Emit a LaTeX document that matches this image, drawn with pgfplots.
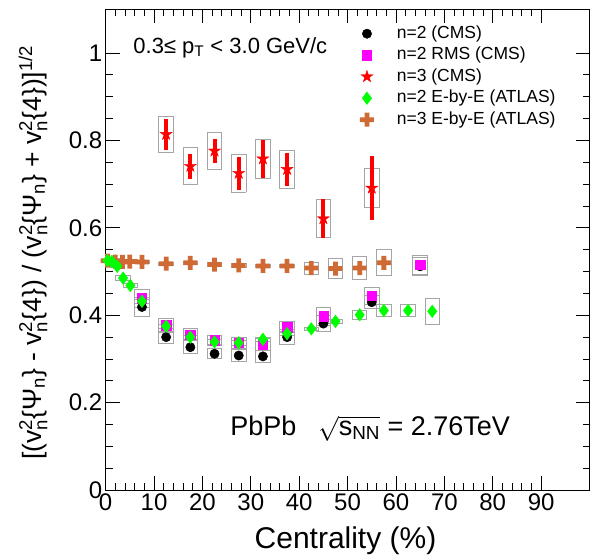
\documentclass[border=0pt]{standalone}
\usepackage{fontspec}
\setmainfont{Liberation Sans}
\usepackage{amsmath}
\usepackage{pgfplots}
\usepackage{pgfplotstable}
\pgfplotsset{compat=1.18}

\definecolor{boxgray}{RGB}{165,165,165}
\definecolor{atlasorange}{RGB}{208,106,52}
\definecolor{atlasgreen}{RGB}{0,255,0}
\definecolor{rmsmagenta}{RGB}{255,0,255}

\pgfdeclareplotmark{fstar}{%
  \pgfpathmoveto{\pgfpointpolar{90}{\pgfplotmarksize}}%
  \pgfpathlineto{\pgfpointpolar{126}{0.382\pgfplotmarksize}}%
  \pgfpathlineto{\pgfpointpolar{162}{\pgfplotmarksize}}%
  \pgfpathlineto{\pgfpointpolar{198}{0.382\pgfplotmarksize}}%
  \pgfpathlineto{\pgfpointpolar{234}{\pgfplotmarksize}}%
  \pgfpathlineto{\pgfpointpolar{270}{0.382\pgfplotmarksize}}%
  \pgfpathlineto{\pgfpointpolar{306}{\pgfplotmarksize}}%
  \pgfpathlineto{\pgfpointpolar{342}{0.382\pgfplotmarksize}}%
  \pgfpathlineto{\pgfpointpolar{18}{\pgfplotmarksize}}%
  \pgfpathlineto{\pgfpointpolar{54}{0.382\pgfplotmarksize}}%
  \pgfpathclose\pgfusepathqfillstroke}

\pgfdeclareplotmark{fplus}{%
  \pgfpathmoveto{\pgfpoint{-0.34\pgfplotmarksize}{\pgfplotmarksize}}%
  \pgfpathlineto{\pgfpoint{0.34\pgfplotmarksize}{\pgfplotmarksize}}%
  \pgfpathlineto{\pgfpoint{0.34\pgfplotmarksize}{0.34\pgfplotmarksize}}%
  \pgfpathlineto{\pgfpoint{\pgfplotmarksize}{0.34\pgfplotmarksize}}%
  \pgfpathlineto{\pgfpoint{\pgfplotmarksize}{-0.34\pgfplotmarksize}}%
  \pgfpathlineto{\pgfpoint{0.34\pgfplotmarksize}{-0.34\pgfplotmarksize}}%
  \pgfpathlineto{\pgfpoint{0.34\pgfplotmarksize}{-\pgfplotmarksize}}%
  \pgfpathlineto{\pgfpoint{-0.34\pgfplotmarksize}{-\pgfplotmarksize}}%
  \pgfpathlineto{\pgfpoint{-0.34\pgfplotmarksize}{-0.34\pgfplotmarksize}}%
  \pgfpathlineto{\pgfpoint{-\pgfplotmarksize}{-0.34\pgfplotmarksize}}%
  \pgfpathlineto{\pgfpoint{-\pgfplotmarksize}{0.34\pgfplotmarksize}}%
  \pgfpathlineto{\pgfpoint{-0.34\pgfplotmarksize}{0.34\pgfplotmarksize}}%
  \pgfpathclose\pgfusepathqfill}

\newcommand\vv{v$^{\text{2}}_{\text{n}}$}

\pgfplotstableread{
x y e
7.5 0.419 0.021
12.5 0.350 0.014
17.5 0.327 0.015
22.5 0.312 0.011
27.5 0.308 0.013
32.5 0.306 0.014
37.5 0.350 0.017
45 0.381 0.018
55 0.430 0.015
65 0.512 0.021
}\cmstwo

\pgfplotstableread{
x y e
7.5 0.439 0.020
12.5 0.377 0.016
17.5 0.356 0.013
22.5 0.343 0.011
27.5 0.337 0.013
32.5 0.333 0.014
37.5 0.373 0.013
45 0.398 0.021
55 0.444 0.020
65 0.516 0.022
}\cmstworms

\pgfplotstableread{
x y ey e
12.5 0.814 0.035 0.041
17.5 0.741 0.029 0.042
22.5 0.776 0.027 0.043
27.5 0.725 0.038 0.043
32.5 0.758 0.043 0.044
37.5 0.734 0.038 0.043
45 0.621 0.045 0.043
55 0.691 0.074 0.044
}\cmsthree

\pgfplotstableread{
x y e
0.4 0.525 0.003
1.3 0.523 0.003
2.4 0.512 0.003
3.6 0.485 0.005
5.1 0.468 0.005
7.5 0.432 0.005
12.5 0.375 0.005
17.5 0.350 0.005
22.5 0.339 0.005
27.5 0.337 0.005
32.5 0.345 0.005
37.5 0.358 0.005
42.5 0.369 0.004
47.5 0.386 0.005
52.5 0.401 0.010
57.5 0.411 0.014
62.5 0.411 0.013
67.5 0.409 0.030
}\atlastwo

\pgfplotstableread{
x y e
0.4 0.525 0.004
2.0 0.523 0.006
3.5 0.522 0.004
5.0 0.523 0.004
7.5 0.522 0.004
12.5 0.518 0.004
17.5 0.520 0.004
22.5 0.516 0.004
27.5 0.514 0.004
32.5 0.513 0.004
37.5 0.513 0.004
42.5 0.508 0.014
47.5 0.507 0.022
52.5 0.508 0.027
57.5 0.520 0.030
}\atlasthree

\pgfplotsset{
  boxh/.style={forget plot, only marks, mark size=0pt,
    mark options={draw opacity=0, fill opacity=0},
    error bars/.cd, x dir=both, x fixed=1.5, error mark=none,
    error bar style={boxgray, line width=0.9pt, line cap=rect}},
  boxv/.style={forget plot, only marks, mark size=0pt,
    mark options={draw opacity=0, fill opacity=0},
    error bars/.cd, y dir=both, y explicit, error mark=none,
    error bar style={boxgray, line width=0.9pt, line cap=rect}},
  myleg/.style={legend image code/.code={%
    \path (-8pt,0pt) (27.5pt,0pt);
    \draw[##1] plot coordinates {(0pt,0pt)};}},
}
\newcommand\sysbox[1]{%
  \addplot[boxh] table[x=x, y expr=\thisrow{y}+\thisrow{e}] {#1};
  \addplot[boxh] table[x=x, y expr=\thisrow{y}-\thisrow{e}] {#1};
  \addplot[boxv] table[x expr=\thisrow{x}-1.5, y=y, y error=e] {#1};
  \addplot[boxv] table[x expr=\thisrow{x}+1.5, y=y, y error=e] {#1};
}

\begin{document}
\begin{tikzpicture}
\begin{axis}[
  name=ax,
  scale only axis, width=484pt, height=481pt,
  xmin=0, xmax=100, ymin=0, ymax=1.1,
  xtick={0,10,20,30,40,50,60,70,80,90},
  ytick={0,0.2,0.4,0.6,0.8,1},
  minor x tick num=4, minor y tick num=3,
  major tick length=14pt, minor tick length=7pt,
  tick align=inside,
  tick style={black, line width=0.8pt},
  axis line style={black, line width=0.9pt},
  tick label style={font=\fontsize{24}{24}\selectfont},
  /pgf/number format/assume math mode=true,
  xlabel={Centrality (\%)},
  xlabel style={font=\fontsize{30}{30}\selectfont, at={(axis description cs:0.6907,-0.1206)}, anchor=base east},
  ylabel={[(\vv\{Ψ$_{\text{n}}$\} - \vv\{4\}) / (\vv\{Ψ$_{\text{n}}$\} + \vv\{4\})]$^{\text{1/2}}$},
  ylabel style={font=\fontsize{26.5}{26.5}\selectfont, at={(axis description cs:-0.150,0.494)}, anchor=center},
  legend style={at={(axis description cs:0.5227,0.972)}, anchor=north west,
    draw=none, fill=none, inner sep=0pt,
    font=\fontsize{17.5}{21}\selectfont, row sep=0pt,
    nodes={inner sep=2.25pt, text height=13pt, text depth=4pt}},
  legend cell align=left,
]
% ATLAS n=3
\sysbox{\atlasthree}
\addplot[forget plot, only marks, mark=fplus, mark size=7pt, draw=atlasorange, fill=atlasorange] table[x=x,y=y] {\atlasthree};
% CMS n=2 and RMS
\addplot[forget plot, only marks, mark=*, mark size=4.7pt, draw=black, fill=black] table[x=x,y=y] {\cmstwo};
\addplot[forget plot, only marks, mark=square*, mark size=4.65pt, draw=rmsmagenta, fill=rmsmagenta] table[x=x,y=y] {\cmstworms};
\sysbox{\cmstwo}
\sysbox{\cmstworms}
% CMS n=3
\sysbox{\cmsthree}
\addplot[forget plot, only marks, mark=fstar, mark size=6.3pt, draw=red, fill=red,
  error bars/.cd, y dir=both, y explicit, error mark=none,
  error bar style={line width=4pt, red}] table[x=x,y=y,y error=ey] {\cmsthree};
% ATLAS n=2
\sysbox{\atlastwo}
\addplot[forget plot, only marks, mark=diamond*, mark size=6.3pt, draw=atlasgreen, fill=atlasgreen] table[x=x,y=y] {\atlastwo};

\addlegendimage{only marks, mark=*, mark size=4.7pt, draw=black, fill=black, myleg}
\addlegendentry{n=2 (CMS)}
\addlegendimage{only marks, mark=square*, mark size=4.65pt, draw=rmsmagenta, fill=rmsmagenta, myleg}
\addlegendentry{n=2 RMS (CMS)}
\addlegendimage{only marks, mark=fstar, mark size=6.3pt, draw=red, fill=red, myleg}
\addlegendentry{n=3 (CMS)}
\addlegendimage{only marks, mark=diamond*, mark size=6.3pt, draw=atlasgreen, fill=atlasgreen, myleg}
\addlegendentry{n=2 E-by-E (ATLAS)}
\addlegendimage{only marks, mark=fplus, mark size=7pt, draw=atlasorange, fill=atlasorange, myleg}
\addlegendentry{n=3 E-by-E (ATLAS)}

\node[anchor=base west, font=\fontsize{22}{22}\selectfont] at (axis description cs:0.0502,0.9085) {0.3≤ p$_{\text{T}}$ < 3.0 GeV/c};
\node[anchor=base west, font=\fontsize{27}{27}\selectfont] at (axis description cs:0.2506,0.1143) {PbPb\hspace{0.8em}$\sqrt{\text{s}_{\text{NN}}}$ = 2.76TeV};
\end{axis}
\pgfresetboundingbox
\path (ax.south west) ++(-105.7pt,-69pt) rectangle ([shift={(10.5pt,9.3pt)}]ax.north east);
\end{tikzpicture}
\end{document}
